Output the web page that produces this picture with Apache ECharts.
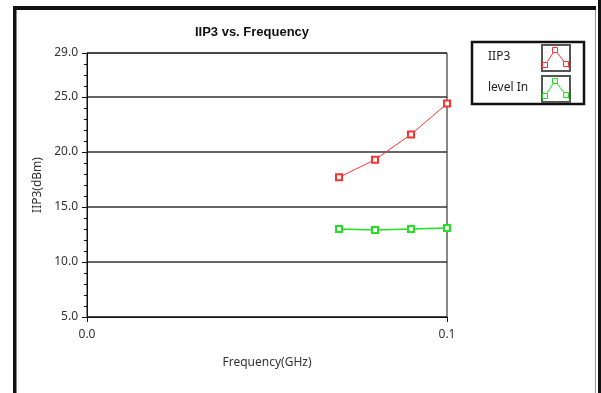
<!DOCTYPE html>
<html lang="en">
<head>
    <meta charset="UTF-8">
    <title>IIP3 vs. Frequency</title>
    <script src="https://cdn.jsdelivr.net/npm/echarts@6.0.0/dist/echarts.min.js"></script>
    <style>
        html, body { margin: 0; padding: 0; background: #fff; overflow: hidden; }
    </style>
</head>
<body>
    <div id="chart" style="width: 601px; height: 393px;"></div>

    <script>
// data
const freqGHz = [0.07, 0.08, 0.09, 0.1];
const iip3 = [17.7, 19.3, 21.6, 24.4];
const levelIn = [13.0, 12.9, 13.0, 13.1];
const seriesNames = ['IIP3', 'level In'];
const seriesColors = ['#ff3030', '#22e022'];

const myChart = echarts.init(document.getElementById('chart'));
const font = 'Noto Sans';

function pairs(xs, ys) {
    return xs.map((x, i) => [x, ys[i]]);
}

// little legend swatch: box with a /\ line and square markers
function swatch(y0, color) {
    const pts = [[545, y0 + 20], [555, y0 + 5], [566, y0 + 19], [570, y0 + 24]];
    const items = [
        { type: 'rect', shape: { x: 542, y: y0, width: 28, height: 26 },
          style: { fill: '#fff', stroke: '#555', lineWidth: 2 } },
        { type: 'polyline', shape: { points: pts },
          style: { fill: null, stroke: color, lineWidth: 1 } }
    ];
    pts.slice(0, 3).forEach(p => {
        items.push({ type: 'rect', shape: { x: p[0] - 2.5, y: p[1] - 2.5, width: 5, height: 5 },
            style: { fill: '#fff', stroke: color, lineWidth: 1 } });
    });
    return items;
}

const option = {
    animation: false,
    title: {
        text: 'IIP3 vs. Frequency',
        left: 247,
        top: 21,
        textAlign: 'center',
        textStyle: { fontFamily: 'Liberation Sans', fontWeight: 'bold', fontSize: 13, color: '#111' }
    },
    legend: {
        orient: 'vertical',
        left: 481,
        top: 49,
        padding: 0,
        itemGap: 15,
        itemWidth: 2,
        itemHeight: 16,
        icon: 'rect',
        itemStyle: { opacity: 0 },
        textStyle: { fontFamily: font, fontSize: 12, color: '#222' },
        data: seriesNames
    },
    grid: {
        left: 87,
        right: 154,
        top: 53,
        bottom: 76,
        show: true,
        borderColor: '#111',
        borderWidth: 1
    },
    xAxis: {
        type: 'value',
        min: 0,
        max: 0.1,
        interval: 0.1,
        name: 'Frequency(GHz)',
        nameLocation: 'middle',
        nameGap: 40,
        nameTextStyle: { fontFamily: font, fontSize: 12, color: '#333' },
        axisLine: { lineStyle: { color: '#111' } },
        axisTick: { length: 5, lineStyle: { color: '#111' } },
        splitLine: { show: false },
        axisLabel: {
            margin: 12,
            fontFamily: font, fontSize: 12, color: '#333',
            formatter: v => v.toFixed(1)
        }
    },
    yAxis: [
        {
            type: 'value',
            min: 5,
            max: 29,
            interval: 5,
            name: 'IIP3(dBm)',
            nameLocation: 'middle',
            nameGap: 42,
            nameTextStyle: { fontFamily: font, fontSize: 12, color: '#333' },
            axisLine: { show: true, lineStyle: { color: '#111' } },
            axisTick: { length: 5, lineStyle: { color: '#111' } },
            splitLine: { lineStyle: { color: '#333', width: 1.5 } },
            axisLabel: {
                margin: 9,
                fontFamily: font, fontSize: 12, color: '#333',
                formatter: v => v.toFixed(1)
            }
        },
        {
            // minor ticks, one per dB
            type: 'value',
            position: 'left',
            min: 5,
            max: 29,
            interval: 1,
            axisLine: { show: false },
            axisTick: { length: 3, lineStyle: { color: '#111' } },
            axisLabel: { show: false },
            splitLine: { show: false }
        }
    ],
    series: [
        {
            name: seriesNames[0],
            type: 'line',
            data: pairs(freqGHz, iip3),
            symbol: 'emptyRect',
            symbolSize: 6,
            itemStyle: { color: seriesColors[0] },
            lineStyle: { width: 1, color: seriesColors[0] }
        },
        {
            name: seriesNames[1],
            type: 'line',
            data: pairs(freqGHz, levelIn),
            symbol: 'emptyRect',
            symbolSize: 6,
            itemStyle: { color: seriesColors[1] },
            lineStyle: { width: 1.5, color: seriesColors[1] }
        }
    ],
    graphic: [
        // outer panel frame (runs off the bottom of the picture)
        { type: 'rect', shape: { x: 13, y: 6, width: 3.5, height: 420 }, style: { fill: '#111' } },
        { type: 'rect', shape: { x: 13, y: 6, width: 583, height: 4 }, style: { fill: '#111' } },
        { type: 'rect', shape: { x: 595, y: 10, width: 1, height: 420 }, style: { fill: '#999' } },
        { type: 'rect', shape: { x: 598, y: 0, width: 4, height: 420 }, style: { fill: '#111' } },
        // legend box
        { type: 'rect', shape: { x: 472, y: 42, width: 112, height: 62 },
          style: { fill: null, stroke: '#111', lineWidth: 2.5 } }
    ].concat(swatch(45, seriesColors[0]), swatch(76, seriesColors[1]))
};

myChart.setOption(option);
    </script>
</body>
</html>
